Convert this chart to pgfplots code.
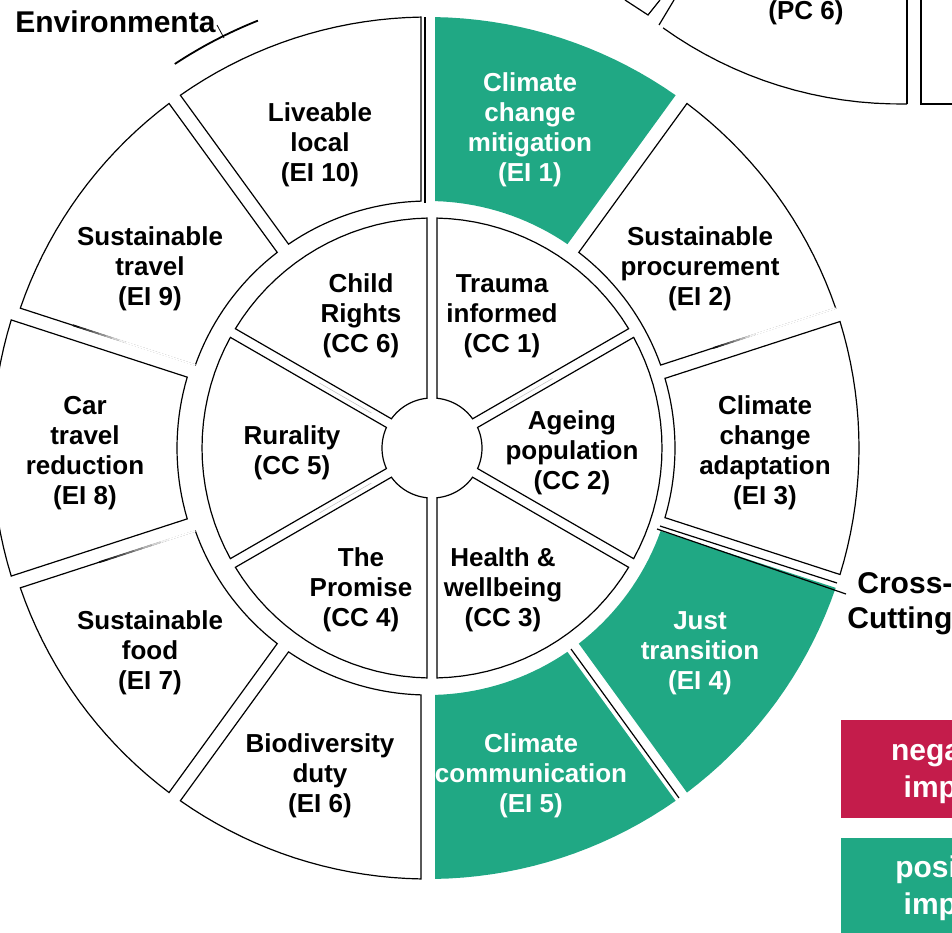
\documentclass[border=0pt]{standalone}
\usepackage{pgfplots}
\pgfplotsset{compat=1.18}
\usepackage{fontspec}
\setmainfont{Liberation Sans}
\definecolor{tealc}{HTML}{20A884}
\definecolor{crimc}{HTML}{C41C4B}

% arc points appended to \pts (pixel coordinates, y downwards)
\newcommand\arcpts[6]{%
  \foreach \k in {0,...,#6}{%
    \pgfmathsetmacro\ang{#4+(#5-#4)*\k/#6}%
    \pgfmathsetmacro\px{#1+#3*cos(\ang)}%
    \pgfmathsetmacro\py{#2-#3*sin(\ang)}%
    \xdef\pts{\pts(\px,\py)}%
  }%
}
% annular sector: cx cy rin rout a0 a1 halfgap style
\newcommand\sector[8]{%
  \gdef\pts{}%
  \pgfmathsetmacro\dao{asin(#7/#4)}%
  \pgfmathsetmacro\dai{asin(#7/#3)}%
  \pgfmathsetmacro\oa{#5+\dao}\pgfmathsetmacro\ob{#6-\dao}%
  \pgfmathsetmacro\ia{#6-\dai}\pgfmathsetmacro\ib{#5+\dai}%
  \arcpts{#1}{#2}{#4}{\oa}{\ob}{18}%
  \arcpts{#1}{#2}{#3}{\ia}{\ib}{18}%
  \edef\tmp{\noexpand\addplot[#8] coordinates {\pts} -- cycle;}\tmp
}
% open arc: cx cy r a0 a1 style
\newcommand\arcline[6]{%
  \gdef\pts{}%
  \arcpts{#1}{#2}{#3}{#4}{#5}{16}%
  \edef\tmp{\noexpand\addplot[#6] coordinates {\pts};}\tmp
}
\tikzset{lab/.style={font=\bfseries\fontsize{13}{15}\selectfont, align=center, inner sep=0pt},
  ttl/.style={font=\bfseries\fontsize{15}{17}\selectfont, inner sep=0pt}}
\pgfplotsset{fade/.style={mesh, line width=0.9pt, point meta=explicit,
  point meta min=0, point meta max=1, colormap={bw}{color=(black) color=(white)}}}

\begin{document}
\begin{tikzpicture}
\useasboundingbox (0pt,0pt) rectangle (476pt,466pt);
\clip (0pt,0pt) rectangle (476pt,466pt);
\begin{axis}[at={(0pt,0pt)}, anchor=south west, scale only axis,
  width=476pt, height=466pt, xmin=0, xmax=952, ymin=0, ymax=932,
  y dir=reverse, hide axis, clip=false]

% ---- outer ring (EI), centre (428,448)
\sector{428}{448}{247}{431}{54}{90}{7}{fill=tealc, draw=none}
\sector{428}{448}{247}{431}{18}{54}{7}{fill=white, draw=black, line width=0.6pt}
\sector{428}{448}{247}{431}{-18}{18}{7}{fill=white, draw=black, line width=0.6pt}
\sector{428}{448}{247}{431}{-54}{-18}{7}{fill=tealc, draw=none}
\sector{428}{448}{247}{431}{-90}{-54}{7}{fill=tealc, draw=none}
\sector{428}{448}{247}{431}{-126}{-90}{7}{fill=white, draw=black, line width=0.6pt}
\sector{428}{448}{247}{431}{-162}{-126}{7}{fill=white, draw=black, line width=0.6pt}
\sector{428}{448}{251}{436}{162}{198}{7}{fill=white, draw=black, line width=0.6pt}
\sector{428}{448}{247}{431}{126}{162}{7}{fill=white, draw=black, line width=0.6pt}
\sector{428}{448}{247}{431}{90}{126}{7}{fill=white, draw=black, line width=0.6pt}

% fading edges (EI 9 bottom, EI 2 bottom, EI 7 top)
\addplot[fade] coordinates {(72.80,325.20) [0] (79.36,327.34) [0.125] (85.93,329.48) [0.25] (92.49,331.61) [0.375] (99.05,333.75) [0.5] (105.61,335.89) [0.625] (112.18,338.03) [0.75] (118.74,340.16) [0.875] (125.30,342.30) [1] (195.3,365.1) [1]};
\addplot[fade] coordinates {(713.20,348.03) [0] (718.45,346.32) [0.125] (723.70,344.62) [0.25] (728.95,342.91) [0.375] (734.20,341.20) [0.5] (739.45,339.50) [0.625] (744.70,337.79) [0.75] (749.95,336.08) [0.875] (755.20,334.37) [1] (835.7,308.2) [1]};
\addplot[fade] coordinates {(99.05,562.25) [0] (107.80,559.40) [0.125] (116.55,556.55) [0.25] (125.30,553.70) [0.375] (134.05,550.85) [0.5] (142.80,548.00) [0.625] (151.55,545.15) [0.75] (160.30,542.30) [0.875] (169.05,539.45) [1] (195.3,530.9) [1]};

% ---- inner ring (CC), centre (432,448)
\sector{432}{448}{50}{230}{30}{90}{5}{fill=white, draw=black, line width=0.6pt}
\sector{432}{448}{50}{230}{-30}{30}{5}{fill=white, draw=black, line width=0.6pt}
\sector{432}{448}{50}{230}{-90}{-30}{5}{fill=white, draw=black, line width=0.6pt}
\sector{432}{448}{50}{230}{-150}{-90}{5}{fill=white, draw=black, line width=0.6pt}
\sector{432}{448}{50}{230}{150}{210}{5}{fill=white, draw=black, line width=0.6pt}
\sector{432}{448}{50}{230}{90}{150}{5}{fill=white, draw=black, line width=0.6pt}

% faint lines in inner gaps
\addplot[gray!45, line width=0.3pt] coordinates {(371.4,413.0) (319.4,383.0)};
\addplot[gray!45, line width=0.3pt] coordinates {(371.4,483.0) (319.4,513.0)};
\addplot[gray!45, line width=0.3pt] coordinates {(510.0,403.0) (552.5,378.5)};

% ---- extra separator lines
\addplot[black, line width=0.6pt] coordinates {(425,17) (425,203)};
\addplot[black, line width=0.6pt] coordinates {(660,526) (837,583)};
\addplot[black, line width=0.6pt] coordinates {(657,529) (846,594)};
\addplot[black, line width=0.6pt] coordinates {(571,649) (679,798)};

% ---- fragments of neighbouring wheels
\arcline{428}{448}{460}{111.7}{123.4}{black, line width=0.9pt}
\addplot[black, line width=0.4pt] coordinates {(217,25) (224,38)};
\addplot[black, line width=0.6pt] coordinates {(674,0) (659,25)};
\arcline{900}{-303}{407}{234.4}{271}{black, line width=0.6pt}
\addplot[black, line width=0.6pt] coordinates {(907,104) (907,0)};
\addplot[black, line width=0.6pt] coordinates {(921,0) (921,104) (952,104)};
\addplot[black, line width=0.6pt] coordinates {(625,0) (648,15) (660,0)};

% ---- legend boxes
\addplot[fill=crimc, draw=none] coordinates {(841,720) (1063,720) (1063,818) (841,818)} -- cycle;
\addplot[fill=tealc, draw=none] coordinates {(841,838) (1063,838) (1063,1000) (841,1000)} -- cycle;

% ---- labels
\node[lab, text=white] at (530,130) {Climate\\change\\mitigation\\(EI 1)};
\node[lab] at (700,269) {Sustainable\\procurement\\(EI 2)};
\node[lab] at (765,453) {Climate\\change\\adaptation\\(EI 3)};
\node[lab, text=white] at (700,653) {Just\\transition\\(EI 4)};
\node[lab, text=white] at (531,776) {Climate\\communication\\(EI 5)};
\node[lab] at (320,776) {Biodiversity\\duty\\(EI 6)};
\node[lab] at (150,653) {Sustainable\\food\\(EI 7)};
\node[lab] at (85,453) {Car\\travel\\reduction\\(EI 8)};
\node[lab] at (150,269) {Sustainable\\travel\\(EI 9)};
\node[lab] at (320,145) {Liveable\\local\\(EI 10)};

\node[lab] at (502,316) {Trauma\\informed\\(CC 1)};
\node[lab] at (572,453) {Ageing\\population\\(CC 2)};
\node[lab] at (503,590) {Health \&\\wellbeing\\(CC 3)};
\node[lab] at (361,590) {The\\Promise\\(CC 4)};
\node[lab] at (292,453) {Rurality\\(CC 5)};
\node[lab] at (361,316) {Child\\Rights\\(CC 6)};

\node[ttl, anchor=base west] at (15,32) {Environmenta};
\node[ttl, anchor=base west] at (857,593) {Cross-};
\node[ttl, anchor=base west] at (847,628) {Cutting};
\node[lab, anchor=base] at (806,19) {(PC 6)};
\node[ttl, text=white, anchor=base] at (952,760) {negative};
\node[ttl, text=white, anchor=base] at (952,797) {impact};
\node[ttl, text=white, anchor=base] at (952,877) {positive};
\node[ttl, text=white, anchor=base] at (952,914) {impact};
\end{axis}
\end{tikzpicture}
\end{document}
